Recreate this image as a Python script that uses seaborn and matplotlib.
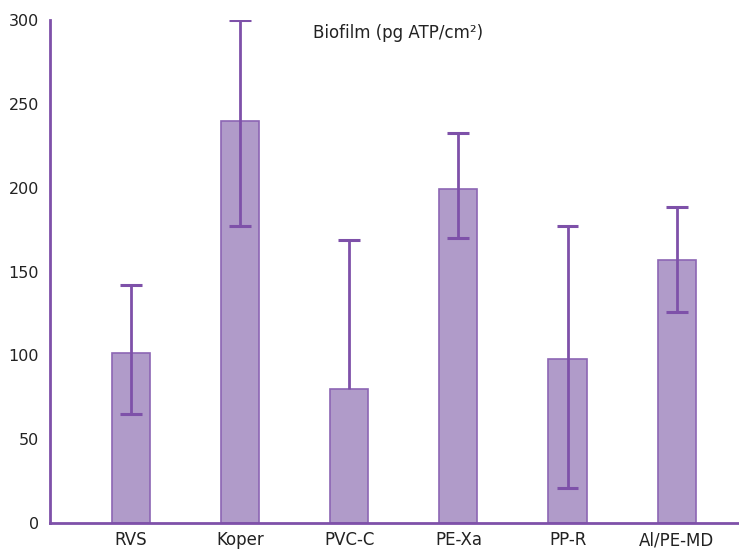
import numpy as np
import pandas as pd
import matplotlib
matplotlib.use("Agg")
import matplotlib.pyplot as plt
import seaborn as sns

# данные
materials = ["RVS", "Koper", "PVC-C", "PE-Xa", "PP-R", "Al/PE-MD"]
biofilm = [101.6, 239.5, 80, 199.4, 98, 157]
err_low = [65, 177, np.nan, 170, 21, 125.7]
err_high = [141.8, 300, 169, 232.5, 177, 188.5]

fill_color = "#b09bc9"
edge_color = "#8c66b4"
line_color = "#7e51a9"

sns.set_style("white")
plt.rcParams["font.family"] = ["DejaVu Sans"]

df = pd.DataFrame({"Material": materials, "Biofilm": biofilm})

fig = plt.figure(figsize=(7.39, 5.5), dpi=100)
ax = fig.add_axes([50 / 739, 27 / 550, 1 - 50 / 739, (523 - 20) / 550])

sns.barplot(data=df, x="Material", y="Biofilm", color=fill_color, width=0.35,
            saturation=1, edgecolor=edge_color, linewidth=1.2, ax=ax)

# усы ошибок рисуем вручную (у PVC-C нет нижнего уса)
pos = np.arange(len(materials))
lows = [lo if not np.isnan(lo) else b for lo, b in zip(err_low, biofilm)]
ax.vlines(pos, lows, err_high, color=line_color, linewidth=2, zorder=5)
ax.hlines(err_high, pos - 0.1, pos + 0.1, color=line_color, linewidth=2.2, zorder=5)
low_pos = [p for p, lo in zip(pos, err_low) if not np.isnan(lo)]
low_vals = [lo for lo in err_low if not np.isnan(lo)]
ax.hlines(low_vals, np.array(low_pos) - 0.1, np.array(low_pos) + 0.1,
          color=line_color, linewidth=2.2, zorder=5)

ax.set_xlim(-0.74, 5.57)
ax.set_ylim(0, 300)
ax.set_yticks([0, 50, 100, 150, 200, 250, 300])
ax.set_xlabel("")
ax.set_ylabel("")
ax.tick_params(axis="y", length=0, labelsize=11.5, colors="#222222", pad=8)
ax.tick_params(axis="x", length=0, labelsize=12, colors="#222222", pad=6)

sns.despine(ax=ax)
for s in ["left", "bottom"]:
    ax.spines[s].set_color(line_color)
    ax.spines[s].set_linewidth(2)

fig.text(313 / 739, 1 - 33 / 550, "Biofilm (pg ATP/cm²)", ha="left", va="center",
         fontsize=12, color="#222222")

fig.savefig("out.png", dpi=100)
